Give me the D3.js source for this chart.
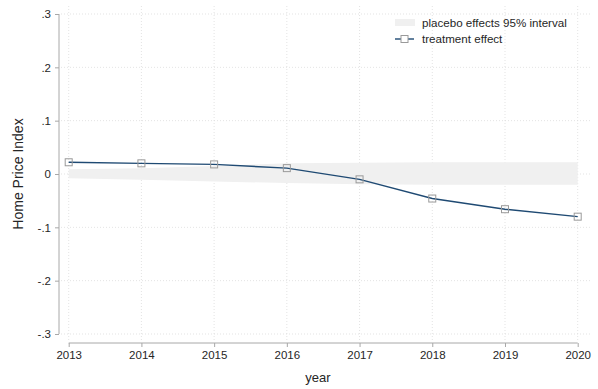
<!DOCTYPE html>
<html>
<head>
<meta charset="utf-8">
<script src="https://cdn.jsdelivr.net/npm/d3@7"></script>
<style>
  html, body { margin: 0; padding: 0; background: #fff; }
  svg { display: block; font-family: "Liberation Sans", Arial, Helvetica, sans-serif; }
</style>
</head>
<body>
<svg id="chart" width="598" height="389"></svg>
<script>
// Event-study estimates of the treatment effect on the home price index
const years = [2013, 2014, 2015, 2016, 2017, 2018, 2019, 2020];
const treatmentEffect = [0.022, 0.020, 0.018, 0.011, -0.010, -0.046, -0.066, -0.080];
// 95% interval of the placebo effects
const placeboUpper = [0.009, 0.011, 0.015, 0.020, 0.021, 0.022, 0.022, 0.022];
const placeboLower = [-0.008, -0.011, -0.014, -0.017, -0.019, -0.020, -0.020, -0.020];
const yTicks = [-0.3, -0.2, -0.1, 0, 0.1, 0.2, 0.3];
const yTickLabels = ["-.3", "-.2", "-.1", "0", ".1", ".2", ".3"];
const legendLabels = ["placebo effects 95% interval", "treatment effect"];

const svg = d3.select("#chart");
const x = d3.scaleLinear().domain([2013, 2020]).range([68.7, 577.7]);
const y = d3.scaleLinear().domain([-0.3, 0.3]).range([334, 14]);

const gridColor = "#dcdcdc";
const axisColor = "#a8a8a8";
const textColor = "#262626";
const lineColor = "#1f4a73";
const tickFont = 11.5;

// gridlines
const grid = svg.append("g");
grid.selectAll("line.v").data(years).join("line")
  .attr("x1", d => x(d)).attr("x2", d => x(d))
  .attr("y1", 6).attr("y2", 341)
  .attr("stroke", gridColor).attr("stroke-width", 0.8)
  .attr("stroke-dasharray", "1,2");
grid.selectAll("line.h").data(yTicks).join("line")
  .attr("x1", 61).attr("x2", 590)
  .attr("y1", d => y(d)).attr("y2", d => y(d))
  .attr("stroke", gridColor).attr("stroke-width", 0.8)
  .attr("stroke-dasharray", "1,2");

// placebo band
const area = d3.area()
  .x((d, i) => x(years[i]))
  .y0((d, i) => y(placeboLower[i]))
  .y1((d, i) => y(placeboUpper[i]));
svg.append("path").datum(years).attr("d", area).attr("fill", "#f0f0f0");

// treatment effect line
const line = d3.line().x((d, i) => x(years[i])).y(d => y(d));
svg.append("path").datum(treatmentEffect).attr("d", line)
  .attr("fill", "none").attr("stroke", lineColor).attr("stroke-width", 1.4);
svg.selectAll("rect.pt").data(treatmentEffect).join("rect")
  .attr("x", (d, i) => x(years[i]) - 3.5).attr("y", d => y(d) - 3.5)
  .attr("width", 7).attr("height", 7)
  .attr("fill", "none").attr("stroke", "#9a9a9a").attr("stroke-width", 1);

// y axis
const yAxis = d3.axisLeft(y).tickValues(yTicks)
  .tickFormat((d, i) => yTickLabels[i]).tickSize(4).tickPadding(4);
const gy = svg.append("g").attr("transform", "translate(59,0)").call(yAxis);
gy.select(".domain").attr("stroke", axisColor).attr("d", `M-0,${y(0.3)}V${y(-0.3)}`);
gy.selectAll(".tick line").attr("stroke", axisColor);
gy.selectAll(".tick text").attr("fill", textColor).attr("font-size", tickFont)
  .style("font-family", "'Liberation Sans', Arial, sans-serif");

// x axis
const xAxis = d3.axisBottom(x).tickValues(years).tickFormat(d3.format("d"))
  .tickSize(4).tickPadding(4);
const gx = svg.append("g").attr("transform", "translate(0,343)").call(xAxis);
gx.select(".domain").attr("stroke", axisColor).attr("d", `M${x(2013)},0H${x(2020)}`);
gx.selectAll(".tick line").attr("stroke", axisColor);
gx.selectAll(".tick text").attr("fill", textColor).attr("font-size", tickFont)
  .style("font-family", "'Liberation Sans', Arial, sans-serif");

// axis titles
svg.append("text").attr("x", 318).attr("y", 382).attr("text-anchor", "middle")
  .attr("fill", textColor).attr("font-size", 13).text("year");
svg.append("text").attr("transform", "translate(23,174) rotate(-90)")
  .attr("text-anchor", "middle").attr("fill", textColor).attr("font-size", 14)
  .text("Home Price Index");

// legend
const lg = svg.append("g").attr("transform", "translate(395,0)");
lg.append("rect").attr("x", 0).attr("y", 19).attr("width", 20).attr("height", 7).attr("fill", "#f0f0f0");
lg.append("line").attr("x1", 0).attr("x2", 19).attr("y1", 39).attr("y2", 39)
  .attr("stroke", lineColor).attr("stroke-width", 1.4);
lg.append("rect").attr("x", 6).attr("y", 35.5).attr("width", 7).attr("height", 7)
  .attr("fill", "#fff").attr("stroke", "#9a9a9a");
lg.selectAll("text").data(legendLabels).join("text")
  .attr("x", 27).attr("y", (d, i) => 26.5 + i * 16.5)
  .attr("fill", textColor).attr("font-size", 11.6).text(d => d);
</script>
</body>
</html>
